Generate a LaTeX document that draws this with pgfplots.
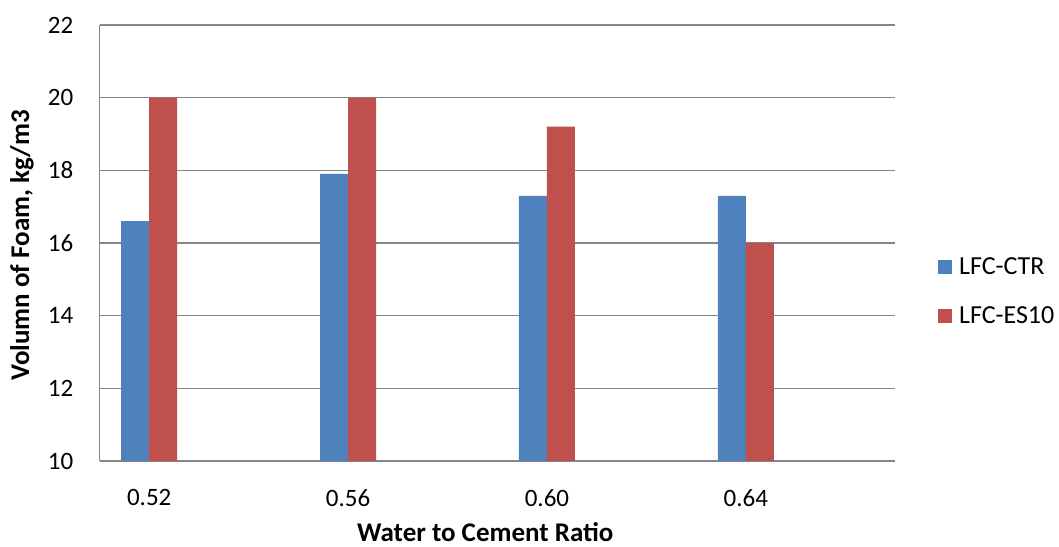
\documentclass[border=0pt]{standalone}
\usepackage{pgfplots}
\pgfplotsset{compat=1.18}
\usepackage{fontspec}
\setmainfont{Carlito}
\definecolor{cblue}{RGB}{79,129,189}
\definecolor{cred}{RGB}{192,80,77}
\definecolor{gridc}{RGB}{134,134,134}
\begin{document}
\begin{tikzpicture}
\path[use as bounding box] (0,0) rectangle (1059pt,546pt);
\begin{axis}[
  at={(99.5pt,85pt)}, anchor=south west,
  scale only axis, width=795.5pt, height=436pt,
  ybar=0pt, bar width=28pt,
  xmin=-0.25, xmax=3.75, ymin=10, ymax=22,
  ytick={10,12,...,22},
  xtick={0,1,2,3}, xticklabels={0.52,0.56,0.60,0.64},
  axis x line*=bottom, axis y line*=left,
  axis line style={draw=gridc, line width=1.4pt, -},
  ymajorgrids, major grid style={draw=gridc, line width=1.4pt},
  major tick length=0pt,
  /pgf/number format/assume math mode=true,
  tick label style={font=\fontsize{25}{28}\selectfont, inner sep=0pt},
  yticklabel style={anchor=east, xshift=-26pt},
  xticklabel style={anchor=north, yshift=-28pt},
  xlabel={\textbf{Water to Cement Ratio}},
  ylabel={\textbf{Volumn of Foam, kg/m3}},
  label style={font=\fontsize{27}{30}\selectfont, inner sep=0pt},
  xlabel style={at={(axis description cs:0.485,-0.162)}, anchor=center},
  ylabel style={at={(axis description cs:-0.0974,0.495)}, anchor=center, rotate=0},
  legend image code/.code={\fill[#1] (0pt,-7pt) rectangle (14pt,7pt);},
  legend cell align=left,
  legend style={at={(axis description cs:1.054,0.389)}, anchor=west, draw=none, fill=none,
    inner sep=0pt, column sep=7pt, row sep=31pt,
    nodes={inner sep=0pt}, font=\fontsize{26}{28}\selectfont},
]
\addplot[fill=cblue, draw=none] coordinates {(0,16.6) (1,17.9) (2,17.3) (3,17.3)};
\addplot[fill=cred, draw=none] coordinates {(0,20) (1,20) (2,19.2) (3,16)};
\legend{LFC-CTR, LFC-ES10}
\end{axis}
\end{tikzpicture}
\end{document}
